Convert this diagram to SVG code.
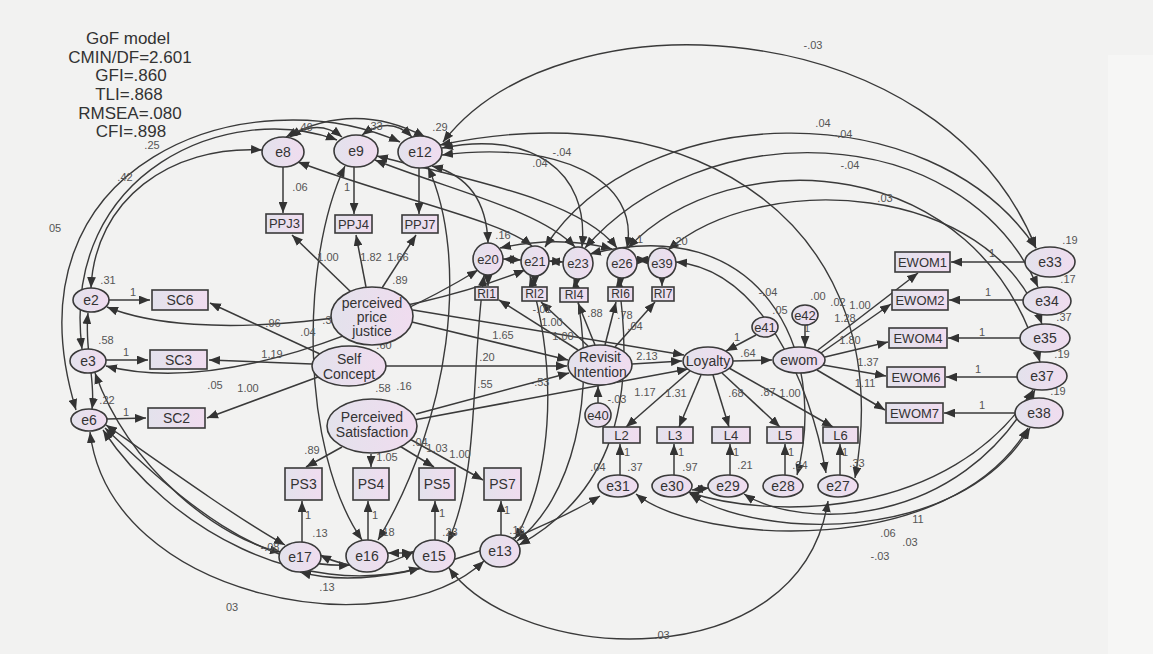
<svg xmlns="http://www.w3.org/2000/svg" width="1153" height="654" viewBox="0 0 1153 654">
<defs>
<linearGradient id="g" x1="0" y1="0" x2="1" y2="0"><stop offset="0" stop-color="#e3e2ec"/><stop offset="1" stop-color="#f0dcef"/></linearGradient>
<marker id="ah" viewBox="0 0 10 8" refX="10" refY="4" markerWidth="11" markerHeight="9" markerUnits="userSpaceOnUse" orient="auto-start-reverse"><path d="M0,0 L10,4 L0,8 z" fill="#333"/></marker>
<style>
.n ellipse,.n rect{fill:url(#g);stroke:#3a3a3a;stroke-width:1.6}
.n text{font-family:"Liberation Sans",Arial,sans-serif;font-size:14px;fill:#333;text-anchor:middle;dominant-baseline:central}
.n text.s{font-size:13px}
.n text.r{font-size:12px}
.d{fill:none;stroke:#3a3a3a;stroke-width:1.5;marker-end:url(#ah)}
.c{fill:none;stroke:#3a3a3a;stroke-width:1.4;marker-start:url(#ah);marker-end:url(#ah)}
.l text{font-family:"Liberation Sans",Arial,sans-serif;font-size:11px;fill:#555;text-anchor:middle;dominant-baseline:central}
.t{font-family:"Liberation Sans",Arial,sans-serif;font-size:17px;fill:#333;text-anchor:middle}
</style>
</defs>
<rect width="1153" height="654" fill="#f2f2f1"/>
<rect x="1108" y="55" width="45" height="599" fill="#f6f6f5"/>
<g id="title">
<text class="t" x="128" y="44">GoF model</text>
<text class="t" x="130" y="63">CMIN/DF=2.601</text>
<text class="t" x="131" y="81">GFI=.860</text>
<text class="t" x="129" y="100">TLI=.868</text>
<text class="t" x="130" y="119">RMSEA=.080</text>
<text class="t" x="131" y="137">CFI=.898</text>
</g>
<g id="connectors">
<path class="d" d="M352,293 L292,235"/>
<path class="d" d="M366,287 L356,235"/>
<path class="d" d="M382,288 L416,235"/>
<path class="d" d="M283,167 L283,213"/>
<path class="d" d="M354,167 L354,214"/>
<path class="d" d="M419,168 L419,214"/>
<path class="d" d="M320,354 L210,303"/>
<path class="d" d="M312,364 L209,360"/>
<path class="d" d="M318,377 L207,418"/>
<path class="d" d="M109,300 L150,300"/>
<path class="d" d="M106,360 L148,360"/>
<path class="d" d="M107,419 L146,418"/>
<path class="d" d="M342,447 L306,467"/>
<path class="d" d="M371,454 L371,467"/>
<path class="d" d="M398,445 L434,467"/>
<path class="d" d="M408,438 L483,480"/>
<path class="d" d="M302,542 L302,501"/>
<path class="d" d="M368,540 L368,501"/>
<path class="d" d="M435,540 L435,501"/>
<path class="d" d="M501,535 L501,501"/>
<path class="d" d="M578,350 L499,300"/>
<path class="d" d="M588,346 L541,302"/>
<path class="d" d="M595,345 L578,303"/>
<path class="d" d="M605,345 L616,302"/>
<path class="d" d="M615,347 L655,302"/>
<path class="d" d="M488,275 L488,286"/>
<path class="d" d="M535,276 L535,286"/>
<path class="d" d="M577,279 L576,287"/>
<path class="d" d="M621,278 L621,286"/>
<path class="d" d="M662,278 L662,286"/>
<path class="d" d="M598,403 L598,386"/>
<path class="d" d="M632,364 L682,361"/>
<path class="d" d="M412,322 L568,360"/>
<path class="d" d="M386,366 L567,366"/>
<path class="d" d="M416,414 L569,373"/>
<path class="d" d="M413,310 L684,355"/>
<path class="d" d="M414,420 L688,369"/>
<path class="d" d="M690,371 L626,427"/>
<path class="d" d="M701,375 L679,427"/>
<path class="d" d="M713,375 L729,427"/>
<path class="d" d="M722,373 L780,427"/>
<path class="d" d="M729,368 L833,427"/>
<path class="d" d="M620,475 L620,444"/>
<path class="d" d="M674,475 L674,444"/>
<path class="d" d="M730,475 L730,444"/>
<path class="d" d="M785,475 L785,444"/>
<path class="d" d="M840,475 L840,444"/>
<path class="d" d="M733,361 L772,360"/>
<path class="d" d="M756,335 L726,351"/>
<path class="d" d="M805,325 L805,347"/>
<path class="d" d="M818,350 L918,273"/>
<path class="d" d="M821,353 L891,304"/>
<path class="d" d="M825,357 L888,342"/>
<path class="d" d="M823,365 L886,376"/>
<path class="d" d="M817,370 L885,410"/>
<path class="d" d="M1025,262 L951,262"/>
<path class="d" d="M1023,300 L949,300"/>
<path class="d" d="M1020,338 L948,338"/>
<path class="d" d="M1017,377 L946,377"/>
<path class="d" d="M1015,413 L944,413"/>
<path class="c" d="M290,137 Q318,118 342,137"/>
<path class="c" d="M362,135 Q390,115 412,137"/>
<path class="c" d="M286,137 Q355,100 425,137"/>
<path class="c" d="M443,142 C560,-10 940,10 1036,248"/>
<path class="c" d="M545,247 C640,100 930,90 1036,248"/>
<path class="c" d="M585,248 C700,115 960,115 1038,287"/>
<path class="c" d="M628,248 C730,140 980,150 1040,362"/>
<path class="c" d="M668,250 C760,170 990,180 1042,324"/>
<path class="c" d="M442,148 C530,130 590,170 582,247"/>
<path class="c" d="M442,155 C560,140 640,180 627,248"/>
<path class="c" d="M432,166 Q486,180 488,243"/>
<path class="c" d="M298,162 C400,200 500,220 532,246"/>
<path class="c" d="M375,160 C450,190 540,210 575,247"/>
<path class="c" d="M377,156 C470,180 580,200 617,248"/>
<path class="c" d="M503,259 L521,260"/>
<path class="c" d="M549,261 L563,262"/>
<path class="c" d="M637,260 L648,260"/>
<path class="c" d="M500,248 Q560,235 612,249"/>
<path class="c" d="M262,150 C170,145 95,200 91,288"/>
<path class="c" d="M337,140 C230,100 60,170 82,349"/>
<path class="c" d="M400,142 C250,75 0,160 76,410"/>
<path class="c" d="M107,307 C200,345 400,320 525,270"/>
<path class="c" d="M106,366 C220,395 380,330 478,270"/>
<path class="c" d="M88,313 C84,350 96,380 92,409"/>
<path class="c" d="M95,373 C130,470 220,540 281,552"/>
<path class="c" d="M106,425 C170,470 240,520 285,545"/>
<path class="c" d="M105,428 C180,500 260,570 350,565"/>
<path class="c" d="M103,430 C170,530 300,600 420,568"/>
<path class="c" d="M90,432 C110,600 390,650 484,561"/>
<path class="c" d="M345,166 C300,260 300,450 362,540"/>
<path class="c" d="M428,167 C470,260 450,420 378,540"/>
<path class="c" d="M530,276 C560,380 550,480 515,539"/>
<path class="c" d="M574,279 C600,400 570,500 517,541"/>
<path class="c" d="M484,275 C470,380 480,470 448,542"/>
<path class="c" d="M618,278 C640,420 600,500 519,545"/>
<path class="c" d="M388,553 L413,553"/>
<path class="c" d="M320,555 C360,575 390,565 414,551"/>
<path class="c" d="M636,494 C700,545 950,560 1028,428"/>
<path class="c" d="M690,494 C760,540 960,545 1030,428"/>
<path class="c" d="M744,494 C800,530 960,530 1035,390"/>
<path class="c" d="M688,492 C770,520 950,520 1033,390"/>
<path class="c" d="M449,568 C520,665 800,680 828,501"/>
<path class="c" d="M709,488 L692,490"/>
<path class="c" d="M676,262 C760,270 810,380 826,473"/>
<path class="c" d="M590,254 C760,210 830,350 797,475"/>
<path class="c" d="M440,145 C700,90 900,230 855,478"/>
<path class="c" d="M600,496 C560,520 400,600 300,572"/>
</g>
<g class="l" id="labels">
<text x="152" y="145">.25</text><text x="125" y="177">.42</text><text x="55" y="228">05</text>
<text x="305" y="127">.46</text><text x="375" y="126">.33</text><text x="440" y="127">.29</text>
<text x="300" y="187">.06</text><text x="347" y="187">1</text>
<text x="562" y="152">-.04</text><text x="540" y="163">.04</text>
<text x="813" y="45">-.03</text><text x="823" y="123">.04</text><text x="843" y="134">-.04</text><text x="850" y="165">-.04</text><text x="885" y="198">.03</text>
<text x="503" y="235">.16</text>
<text x="328" y="257">1.00</text><text x="371" y="257">1.82</text><text x="398" y="257">1.66</text><text x="400" y="280">.89</text>
<text x="330" y="320">.33</text><text x="308" y="332">.04</text><text x="403" y="317">-.01</text><text x="384" y="345">.60</text>
<text x="383" y="388">.58</text><text x="404" y="386">.16</text><text x="487" y="357">.20</text><text x="485" y="384">.55</text>
<text x="503" y="335">1.65</text><text x="540" y="382">-.53</text><text x="542" y="309">-.01</text><text x="552" y="322">1.00</text><text x="563" y="336">1.00</text>
<text x="595" y="313">.88</text><text x="625" y="315">.78</text><text x="635" y="326">.04</text>
<text x="640" y="239">1</text><text x="680" y="241">.20</text>
<text x="768" y="292">-.04</text><text x="818" y="296">.00</text><text x="780" y="310">.05</text><text x="838" y="302">.02</text>
<text x="860" y="305">1.00</text><text x="845" y="318">1.28</text><text x="850" y="340">1.80</text>
<text x="737" y="337">1</text><text x="807" y="328">1</text><text x="748" y="353">.64</text><text x="647" y="356">2.13</text>
<text x="645" y="392">1.17</text><text x="676" y="393">1.31</text><text x="736" y="393">.68</text><text x="768" y="392">.87</text><text x="790" y="393">1.00</text>
<text x="617" y="399">-.03</text>
<text x="108" y="280">.31</text><text x="133" y="292">1</text><text x="106" y="340">.58</text><text x="126" y="352">1</text><text x="107" y="400">.22</text><text x="126" y="412">1</text>
<text x="273" y="323">.96</text><text x="272" y="354">1.19</text><text x="215" y="385">.05</text><text x="248" y="388">1.00</text>
<text x="312" y="450">.89</text><text x="387" y="457">1.05</text><text x="437" y="448">1.03</text><text x="460" y="454">1.00</text><text x="420" y="442">.04</text>
<text x="308" y="515">1</text><text x="320" y="533">.13</text><text x="375" y="515">1</text><text x="387" y="532">.18</text><text x="442" y="513">1</text><text x="450" y="532">.23</text><text x="507" y="510">1</text><text x="517" y="530">.16</text>
<text x="327" y="587">.13</text><text x="270" y="547">-.08</text><text x="232" y="607">03</text>
<text x="598" y="467">.04</text><text x="635" y="467">.37</text><text x="690" y="467">.97</text><text x="745" y="465">.21</text><text x="800" y="465">.24</text><text x="857" y="463">.33</text>
<text x="627" y="452">1</text><text x="681" y="452">1</text><text x="736" y="452">1</text><text x="791" y="452">1</text><text x="845" y="452">1</text>
<text x="662" y="635">.03</text>
<text x="918" y="519">11</text><text x="888" y="533">.06</text><text x="910" y="542">.03</text><text x="880" y="556">-.03</text>
<text x="1070" y="240">.19</text><text x="992" y="253">1</text><text x="1068" y="279">.17</text><text x="988" y="292">1</text><text x="1064" y="317">.37</text><text x="982" y="332">1</text>
<text x="1062" y="354">.19</text><text x="978" y="369">1</text><text x="1058" y="391">.19</text><text x="982" y="405">1</text>
<text x="868" y="362">1.37</text><text x="865" y="383">1.11</text>
</g>
<g id="n-e8" class="n"><ellipse cx="283" cy="152" rx="21" ry="15"/><text x="283" y="152">e8</text></g>
<g id="n-e9" class="n"><ellipse cx="356" cy="151" rx="22" ry="16"/><text x="356" y="151">e9</text></g>
<g id="n-e12" class="n"><ellipse cx="420" cy="152" rx="22" ry="16"/><text x="420" y="152">e12</text></g>
<g id="n-PPJ3" class="n"><rect x="266" y="214" width="37" height="19"/><text class="s" x="284.5" y="223.5">PPJ3</text></g>
<g id="n-PPJ4" class="n"><rect x="335" y="215" width="37" height="18"/><text class="s" x="353.5" y="224">PPJ4</text></g>
<g id="n-PPJ7" class="n"><rect x="402" y="215" width="36" height="18"/><text class="s" x="420" y="224">PPJ7</text></g>
<g id="n-PPJ" class="n"><ellipse cx="372" cy="316" rx="41" ry="29"/><text x="372" y="303">perceived</text><text x="372" y="317">price</text><text x="372" y="331">justice</text></g>
<g id="n-SC" class="n"><ellipse cx="349" cy="366" rx="37" ry="20"/><text x="349" y="359">Self</text><text x="349" y="374">Concept</text></g>
<g id="n-PS" class="n"><ellipse cx="372" cy="426" rx="45" ry="27"/><text x="372" y="417">Perceived</text><text x="372" y="432">Satisfaction</text></g>
<g id="n-e2" class="n"><ellipse cx="91" cy="300" rx="18" ry="12"/><text x="91" y="300">e2</text></g>
<g id="n-e3" class="n"><ellipse cx="88" cy="361" rx="18" ry="12"/><text x="88" y="361">e3</text></g>
<g id="n-e6" class="n"><ellipse cx="89" cy="420" rx="18" ry="11"/><text x="89" y="420">e6</text></g>
<g id="n-SC6" class="n"><rect x="152" y="290" width="56" height="20"/><text x="180" y="300">SC6</text></g>
<g id="n-SC3" class="n"><rect x="150" y="350" width="57" height="19"/><text x="178.5" y="359.5">SC3</text></g>
<g id="n-SC2" class="n"><rect x="148" y="408" width="57" height="20"/><text x="176.5" y="418">SC2</text></g>
<g id="n-PS3" class="n"><rect x="285" y="468" width="37" height="32"/><text x="303.5" y="484">PS3</text></g>
<g id="n-PS4" class="n"><rect x="353" y="468" width="36" height="32"/><text x="371" y="484">PS4</text></g>
<g id="n-PS5" class="n"><rect x="419" y="468" width="36" height="32"/><text x="437" y="484">PS5</text></g>
<g id="n-PS7" class="n"><rect x="484" y="468" width="37" height="32"/><text x="502.5" y="484">PS7</text></g>
<g id="n-e17" class="n"><ellipse cx="300" cy="557" rx="21" ry="15"/><text x="300" y="557">e17</text></g>
<g id="n-e16" class="n"><ellipse cx="367" cy="556" rx="21" ry="16"/><text x="367" y="556">e16</text></g>
<g id="n-e15" class="n"><ellipse cx="434" cy="556" rx="21" ry="16"/><text x="434" y="556">e15</text></g>
<g id="n-e13" class="n"><ellipse cx="500" cy="551" rx="20" ry="16"/><text x="500" y="551">e13</text></g>
<g id="n-e20" class="n"><ellipse cx="488" cy="259" rx="15" ry="16"/><text class="s" x="488" y="259">e20</text></g>
<g id="n-e21" class="n"><ellipse cx="535" cy="261" rx="14" ry="15"/><text class="s" x="535" y="261">e21</text></g>
<g id="n-e23" class="n"><ellipse cx="578" cy="263" rx="15" ry="16"/><text class="s" x="578" y="263">e23</text></g>
<g id="n-e26" class="n"><ellipse cx="622" cy="263" rx="15" ry="15"/><text class="s" x="622" y="263">e26</text></g>
<g id="n-e39" class="n"><ellipse cx="662" cy="263" rx="14" ry="15"/><text class="s" x="662" y="263">e39</text></g>
<g id="n-RI1" class="n"><rect x="475" y="287" width="23" height="13"/><text class="r" x="486.5" y="293.5">RI1</text></g>
<g id="n-RI2" class="n"><rect x="522" y="287" width="25" height="14"/><text class="r" x="534.5" y="294">RI2</text></g>
<g id="n-RI4" class="n"><rect x="560" y="288" width="28" height="14"/><text class="r" x="574" y="295">RI4</text></g>
<g id="n-RI6" class="n"><rect x="608" y="287" width="25" height="14"/><text class="r" x="620.5" y="294">RI6</text></g>
<g id="n-RI7" class="n"><rect x="652" y="287" width="22" height="14"/><text class="r" x="663" y="294">RI7</text></g>
<g id="n-RevInt" class="n"><ellipse cx="600" cy="365" rx="32" ry="20"/><text x="600" y="357">Revisit</text><text x="600" y="372">Intention</text></g>
<g id="n-e40" class="n"><ellipse cx="598" cy="415" rx="13" ry="12"/><text class="s" x="598" y="415">e40</text></g>
<g id="n-Loyalty" class="n"><ellipse cx="708" cy="361" rx="25" ry="14"/><text x="708" y="361">Loyalty</text></g>
<g id="n-e41" class="n"><ellipse cx="765" cy="327" rx="13" ry="10"/><text class="s" x="765" y="327">e41</text></g>
<g id="n-e42" class="n"><ellipse cx="805" cy="315" rx="13" ry="10"/><text class="s" x="805" y="315">e42</text></g>
<g id="n-ewom" class="n"><ellipse cx="799" cy="360" rx="26" ry="13"/><text x="799" y="360">ewom</text></g>
<g id="n-L2" class="n"><rect x="603" y="427" width="37" height="16"/><text class="s" x="621.5" y="435">L2</text></g>
<g id="n-L3" class="n"><rect x="657" y="427" width="36" height="16"/><text class="s" x="675" y="435">L3</text></g>
<g id="n-L4" class="n"><rect x="712" y="427" width="38" height="16"/><text class="s" x="731" y="435">L4</text></g>
<g id="n-L5" class="n"><rect x="767" y="427" width="36" height="16"/><text class="s" x="785" y="435">L5</text></g>
<g id="n-L6" class="n"><rect x="823" y="427" width="35" height="16"/><text class="s" x="840.5" y="435">L6</text></g>
<g id="n-e31" class="n"><ellipse cx="618" cy="486" rx="20" ry="11"/><text x="618" y="486">e31</text></g>
<g id="n-e30" class="n"><ellipse cx="672" cy="486" rx="20" ry="11"/><text x="672" y="486">e30</text></g>
<g id="n-e29" class="n"><ellipse cx="728" cy="486" rx="20" ry="11"/><text x="728" y="486">e29</text></g>
<g id="n-e28" class="n"><ellipse cx="783" cy="486" rx="20" ry="11"/><text x="783" y="486">e28</text></g>
<g id="n-e27" class="n"><ellipse cx="838" cy="486" rx="20" ry="11"/><text x="838" y="486">e27</text></g>
<g id="n-EWOM1" class="n"><rect x="895" y="252" width="55" height="20"/><text class="s" x="922.5" y="262">EWOM1</text></g>
<g id="n-EWOM2" class="n"><rect x="892" y="290" width="56" height="20"/><text class="s" x="920" y="300">EWOM2</text></g>
<g id="n-EWOM4" class="n"><rect x="889" y="328" width="58" height="20"/><text class="s" x="918" y="338">EWOM4</text></g>
<g id="n-EWOM6" class="n"><rect x="887" y="367" width="58" height="20"/><text class="s" x="916" y="377">EWOM6</text></g>
<g id="n-EWOM7" class="n"><rect x="886" y="403" width="57" height="20"/><text class="s" x="914.5" y="413">EWOM7</text></g>
<g id="n-e33" class="n"><ellipse cx="1050" cy="262" rx="25" ry="15"/><text x="1050" y="262">e33</text></g>
<g id="n-e34" class="n"><ellipse cx="1047" cy="301" rx="24" ry="14"/><text x="1047" y="301">e34</text></g>
<g id="n-e35" class="n"><ellipse cx="1045" cy="338" rx="25" ry="14"/><text x="1045" y="338">e35</text></g>
<g id="n-e37" class="n"><ellipse cx="1042" cy="376" rx="25" ry="14"/><text x="1042" y="376">e37</text></g>
<g id="n-e38" class="n"><ellipse cx="1039" cy="413" rx="24" ry="15"/><text x="1039" y="413">e38</text></g>
</svg>
